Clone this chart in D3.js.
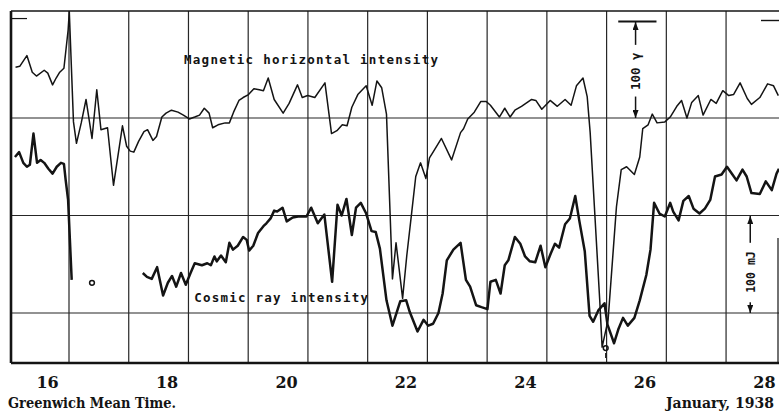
<!DOCTYPE html>
<html>
<head>
<meta charset="utf-8">
<script src="https://cdn.jsdelivr.net/npm/d3@7"></script>
<style>
  body { margin: 0; background: #fff; }
  svg { display: block; }
</style>
</head>
<body>
<div id="chart"></div>
<script>
// time is given in days of January 1938 (GMT)
// magnetic horizontal intensity, gammas (0 = middle grid line)
const mag_time = [15.48,15.55,15.67,15.76,15.83,15.96,16.02,16.10,16.16,16.22,
  16.29,16.36,16.38,16.45,16.50,16.58,16.66,16.76,16.84,16.91,
  17.02,17.12,17.27,17.34,17.40,17.46,17.54,17.63,17.69,17.78,
  17.84,17.93,18.00,18.09,18.20,18.29,18.39,18.48,18.56,18.64,
  18.72,18.78,18.87,18.99,19.06,19.13,19.22,19.29,19.38,19.47,
  19.56,19.63,19.71,19.81,19.96,20.06,20.20,20.28,20.37,20.49,
  20.66,20.77,20.86,20.95,21.03,21.11,21.21,21.35,21.45,21.53,
  21.61,21.69,21.79,21.85,21.96,22.03,22.11,22.18,22.26,22.35,
  22.41,22.47,22.61,22.78,22.93,22.98,23.05,23.16,23.27,23.36,
  23.43,23.58,23.67,23.76,23.84,23.95,24.12,24.19,24.29,24.43,
  24.55,24.68,24.78,24.87,24.98,25.05,25.10,25.18,25.26,25.30,
  25.40,25.54,25.62,25.71,25.84,25.93,25.98,26.07,26.14,26.22,
  26.35,26.44,26.55,26.63,26.72,26.80,26.91,26.99,27.12,27.21,
  27.32,27.42,27.50,27.61,27.73,27.80,27.94,28.07,28.17,28.25];
const mag_value = [52,53,64,47,43,49,46,34,41,47,
  51,90,109,-4,-26,-5,19,-21,29,-12,
  -10,-69,-8,-29,-34,-35,-24,-14,-12,-23,
  -19,1,5,8,6,3,-1,1,3,10,
  5,-10,-7,-5,-5,6,18,21,24,30,
  29,28,41,19,5,15,34,21,23,21,
  36,-16,-13,-7,-8,11,24,33,13,38,
  31,4,-165,-128,-185,-141,-98,-60,-46,-62,
  -41,-35,-21,-43,-15,-11,-1,6,17,17,
  13,1,10,1,8,12,19,18,9,18,
  12,19,13,33,41,22,-15,-101,-187,-235,
  -207,-91,-53,-50,-58,-40,-11,-7,4,-5,
  -4,1,12,18,0,16,23,3,19,15,
  28,23,24,36,20,14,21,35,33,23];

// cosmic ray intensity (0 = lower grid line), null = record missing
const ray_time = [15.47,15.54,15.61,15.67,15.72,15.78,15.84,15.90,15.96,16.03,
  16.10,16.17,16.24,16.29,16.32,16.36,16.39,16.42,
  17.00,
  17.61,17.68,17.76,17.85,17.95,18.03,18.10,18.17,18.25,18.33,
  18.41,18.48,18.60,18.69,18.75,18.81,18.85,18.92,19.00,19.06,
  19.12,19.20,19.29,19.35,19.39,19.46,19.54,19.63,19.68,19.75,
  19.81,19.86,19.95,20.02,20.12,20.21,20.35,20.43,20.54,20.65,
  20.78,20.87,20.94,21.02,21.11,21.18,21.26,21.35,21.44,21.51,
  21.58,21.69,21.79,21.92,22.02,22.08,22.21,22.31,22.39,22.47,
  22.56,22.63,22.70,22.81,22.93,23.02,23.09,23.19,23.28,23.38,
  23.43,23.52,23.60,23.67,23.73,23.84,23.93,24.01,24.09,24.18,
  24.27,24.35,24.44,24.51,24.58,24.68,24.76,24.85,24.92,25.01,
  25.09,25.15,25.24,25.34,25.39,25.50,25.57,25.65,25.73,25.84,
  25.93,26.04,26.11,26.17,26.26,26.35,26.44,26.49,26.58,26.66,
  26.75,26.83,26.93,27.02,27.11,27.19,27.30,27.39,27.47,27.55,
  27.65,27.72,27.80,27.94,28.04,28.14,28.22,28.26];
const ray_value = [160,165,154,150,152,184,154,157,154,148,
  143,150,154,153,136,116,75,34,
  null,
  41,37,35,47,18,31,38,27,41,29,
  41,51,49,51,49,58,53,59,52,72,
  65,69,78,75,64,69,82,89,92,97,
  105,104,108,94,98,99,99,108,92,101,
  32,111,100,117,80,108,113,102,84,83,
  66,13,-13,12,13,1,-19,-7,-13,-11,
  0,20,54,65,72,34,27,8,6,4,
  32,34,20,49,54,78,71,58,53,52,
  69,47,61,71,67,91,97,120,94,63,
  -3,-9,3,10,-12,-31,-17,-5,-13,-5,
  13,39,65,113,102,99,113,104,95,115,
  120,107,102,107,116,140,142,150,143,136,
  147,140,123,122,135,126,143,148];

// small circles drawn on the record
const mark_time = [16.76, 25.36];
const mark_value = [31, -36];

const tick_days = [16, 18, 20, 22, 24, 26, 28];
const grid_days = [16.375, 17.375, 18.375, 19.375, 20.375, 21.375,
  22.375, 23.375, 24.375, 25.375, 26.375, 27.375];
const grid_levels = [0, 100, 200];

const W = 779, H = 414;
const frame = { left: 11, right: 779, top: 11, bottom: 363 };

const x = d3.scaleLinear().domain([16, 28]).range([46.6, 763.4]);
const y_mag = d3.scaleLinear().domain([0, 100]).range([118, 20.5]);
const y_ray = d3.scaleLinear().domain([0, 100]).range([313, 215.5]);

const svg = d3.select("#chart").append("svg")
  .attr("width", W).attr("height", H)
  .attr("viewBox", `0 0 ${W} ${H}`);

const defs = svg.append("defs");
defs.append("clipPath").attr("id", "plot-clip")
  .append("rect")
  .attr("x", frame.left).attr("y", frame.top)
  .attr("width", frame.right - frame.left)
  .attr("height", frame.bottom - frame.top);

defs.append("marker")
  .attr("id", "arrow")
  .attr("viewBox", "0 0 8 6")
  .attr("refX", 8).attr("refY", 3)
  .attr("markerWidth", 8).attr("markerHeight", 6)
  .attr("markerUnits", "userSpaceOnUse")
  .attr("orient", "auto-start-reverse")
  .append("path").attr("d", "M0,0L8,3L0,6z").attr("fill", "#111");

const ink = "#141414";

// grid
const grid = svg.append("g").attr("stroke", "#262626").attr("stroke-width", 1.2);
grid.selectAll("line.v").data(grid_days).join("line")
  .attr("class", "v")
  .attr("x1", (d) => x(d)).attr("x2", (d) => x(d))
  .attr("y1", frame.top).attr("y2", frame.bottom);
grid.selectAll("line.h").data(grid_levels).join("line")
  .attr("class", "h")
  .attr("x1", frame.left).attr("x2", frame.right)
  .attr("y1", (d) => y_ray(d)).attr("y2", (d) => y_ray(d));

// frame
const fr = svg.append("g").attr("stroke", ink).attr("fill", "none");
fr.append("line").attr("x1", frame.left).attr("x2", frame.right)
  .attr("y1", frame.top).attr("y2", frame.top).attr("stroke-width", 1.6);
fr.append("line").attr("x1", frame.left).attr("x2", frame.right)
  .attr("y1", frame.bottom).attr("y2", frame.bottom).attr("stroke-width", 2.6);
fr.append("line").attr("x1", frame.left).attr("x2", frame.left)
  .attr("y1", frame.top).attr("y2", frame.bottom).attr("stroke-width", 2.6);
fr.append("line").attr("x1", frame.right - 1).attr("x2", frame.right - 1)
  .attr("y1", y_ray(77)).attr("y2", frame.bottom).attr("stroke-width", 1.2);

// short level marks at the top edge (300 level)
fr.append("line").attr("x1", frame.left + 1).attr("x2", frame.left + 16)
  .attr("y1", y_ray(302)).attr("y2", y_ray(302)).attr("stroke-width", 1.2);
fr.append("line").attr("x1", x(27.96)).attr("x2", frame.right)
  .attr("y1", y_ray(300)).attr("y2", y_ray(300)).attr("stroke-width", 1.4);

const plot = svg.append("g").attr("clip-path", "url(#plot-clip)");

const mag_line = d3.line()
  .x((d, i) => x(mag_time[i]))
  .y((d) => y_mag(d))
  .curve(d3.curveLinear);

const ray_line = d3.line()
  .defined((d) => d !== null)
  .x((d, i) => x(ray_time[i]))
  .y((d) => y_ray(d))
  .curve(d3.curveLinear);

plot.append("path")
  .attr("d", mag_line(mag_value))
  .attr("fill", "none").attr("stroke", ink)
  .attr("stroke-width", 1.5).attr("stroke-linejoin", "round");

plot.append("path")
  .attr("d", ray_line(ray_value))
  .attr("fill", "none").attr("stroke", ink)
  .attr("stroke-width", 2.5).attr("stroke-linejoin", "round");

plot.selectAll("circle.mark").data(mark_value).join("circle")
  .attr("class", "mark")
  .attr("cx", (d, i) => x(mark_time[i])).attr("cy", (d) => y_ray(d))
  .attr("r", 2.4).attr("fill", "none").attr("stroke", ink).attr("stroke-width", 1.5);
plot.append("line")
  .attr("x1", x(mark_time[1])).attr("x2", x(mark_time[1]))
  .attr("y1", y_ray(mark_value[1]) + 5).attr("y2", y_ray(mark_value[1]) + 10)
  .attr("stroke", ink).attr("stroke-width", 1.2);

// series labels (typewriter)
const tw = "'DejaVu Sans Mono', 'Liberation Mono', monospace";
svg.append("text")
  .attr("x", x(18.30)).attr("y", y_mag(55))
  .attr("font-family", tw).attr("font-size", 12.5).attr("font-weight", "bold")
  .attr("textLength", 254).attr("lengthAdjust", "spacing")
  .attr("fill", ink)
  .text("Magnetic horizontal intensity");
svg.append("text")
  .attr("x", x(18.47)).attr("y", y_ray(11.5))
  .attr("font-family", tw).attr("font-size", 12.5).attr("font-weight", "bold")
  .attr("textLength", 174).attr("lengthAdjust", "spacing")
  .attr("fill", ink)
  .text("Cosmic ray intensity");

// scale bars
const bar_mag = x(25.86);
const sb = svg.append("g").attr("stroke", ink).attr("stroke-width", 1.5);
sb.append("line").attr("x1", x(25.57)).attr("x2", x(26.21))
  .attr("y1", y_mag(99)).attr("y2", y_mag(99)).attr("stroke-width", 1.8);
sb.append("line").attr("x1", bar_mag).attr("x2", bar_mag)
  .attr("y1", y_mag(75)).attr("y2", y_mag(98.5))
  .attr("marker-end", "url(#arrow)");
sb.append("line").attr("x1", bar_mag).attr("x2", bar_mag)
  .attr("y1", y_mag(22)).attr("y2", y_mag(0))
  .attr("marker-end", "url(#arrow)");
svg.append("text")
  .attr("transform", `translate(${bar_mag + 4.5},${y_mag(48)}) rotate(-90)`)
  .attr("text-anchor", "middle")
  .attr("font-family", tw).attr("font-size", 12.5).attr("font-weight", "bold")
  .attr("fill", ink)
  .text("100 γ");

const bar_ray = x(27.78);
sb.append("line").attr("x1", bar_ray).attr("x2", bar_ray)
  .attr("y1", y_ray(72)).attr("y2", y_ray(99.5))
  .attr("marker-end", "url(#arrow)");
sb.append("line").attr("x1", bar_ray).attr("x2", bar_ray)
  .attr("y1", y_ray(11)).attr("y2", y_ray(0))
  .attr("marker-end", "url(#arrow)");
svg.append("text")
  .attr("transform", `translate(${bar_ray + 4.5},${y_ray(42)}) rotate(-90)`)
  .attr("text-anchor", "middle")
  .attr("font-family", tw).attr("font-size", 11.5).attr("font-weight", "bold")
  .attr("fill", ink)
  .text("100 mJ");

// axis labels
const serif = "'DejaVu Serif', 'Liberation Serif', serif";
svg.append("g").selectAll("text").data(tick_days).join("text")
  .attr("x", (d) => x(d) + 1).attr("y", 387.5)
  .attr("text-anchor", "middle")
  .attr("font-family", serif).attr("font-size", 16).attr("font-weight", "bold")
  .attr("fill", ink)
  .text((d) => d);

svg.append("text")
  .attr("x", 8).attr("y", 407.5)
  .attr("font-family", serif).attr("font-size", 14.5).attr("font-weight", "bold")
  .attr("textLength", 168).attr("lengthAdjust", "spacingAndGlyphs")
  .attr("fill", ink)
  .text("Greenwich Mean Time.");
svg.append("text")
  .attr("x", 774).attr("y", 407.5)
  .attr("text-anchor", "end")
  .attr("font-family", serif).attr("font-size", 14.5).attr("font-weight", "bold")
  .attr("textLength", 108).attr("lengthAdjust", "spacingAndGlyphs")
  .attr("fill", ink)
  .text("January, 1938");
</script>
</body>
</html>
